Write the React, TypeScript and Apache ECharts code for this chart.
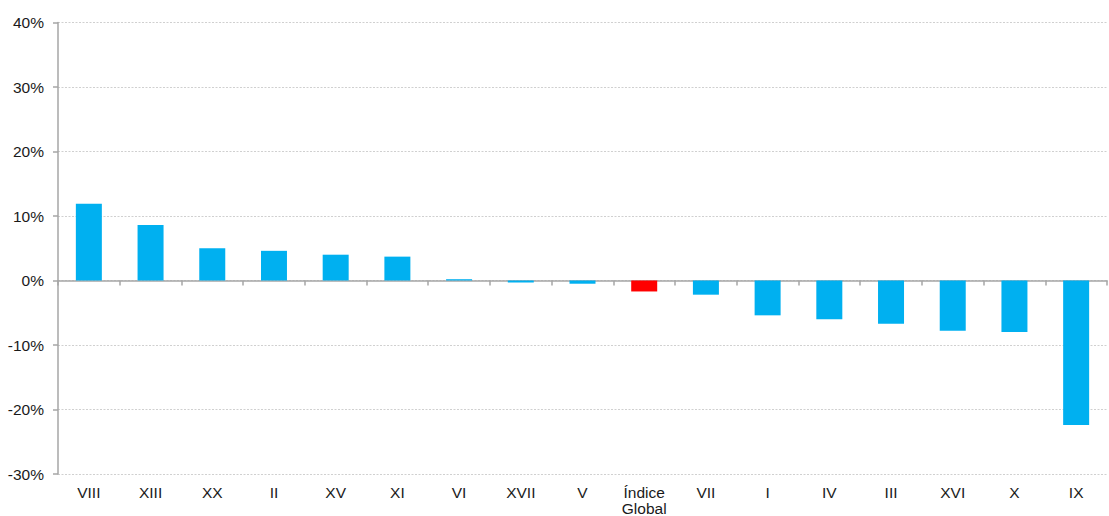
import React, { useEffect, useRef } from "react";
import * as echarts from "echarts";

const categories = ["VIII", "XIII", "XX", "II", "XV", "XI", "VI", "XVII", "V", "Índice\nGlobal", "VII", "I", "IV", "III", "XVI", "X", "IX"];
const values = [11.9, 8.6, 5.0, 4.6, 4.0, 3.7, 0.2, -0.3, -0.5, -1.7, -2.2, -5.4, -6.0, -6.7, -7.8, -8.0, -22.4];
const highlightCategory = "Índice\nGlobal";
const yTicks = { min: -30, max: 40, interval: 10 };

const BLUE = "#00B0F0";
const RED = "#FF0000";
const FONT = "'Liberation Sans', Arial, sans-serif";

export default function App() {
  const ref = useRef<HTMLDivElement>(null);
  useEffect(() => {
    if (!ref.current) return;
    const chart = echarts.init(ref.current, undefined, { renderer: "svg" });
    chart.setOption({
      animation: false,
      backgroundColor: "#ffffff",
      grid: { left: 58, right: 2, top: 22.5, bottom: 41.5, containLabel: false },
      xAxis: [
        {
          type: "category",
          data: categories,
          axisLine: { onZero: true, lineStyle: { color: "#A6A6A6", width: 1.5 } },
          axisTick: { show: true, length: 5, lineStyle: { color: "#A6A6A6", width: 1.5 } },
          axisLabel: { show: false },
          splitLine: { show: false },
        },
        {
          type: "category",
          data: categories,
          position: "bottom",
          axisLine: { show: false, onZero: false },
          axisTick: { show: false },
          axisLabel: {
            interval: 0,
            margin: 10,
            color: "#1a1a1a",
            fontSize: 15.5,
            fontFamily: FONT,
            lineHeight: 16,
          },
          splitLine: { show: false },
        },
      ],
      yAxis: {
        type: "value",
        min: yTicks.min,
        max: yTicks.max,
        interval: yTicks.interval,
        axisLine: { show: true, lineStyle: { color: "#A6A6A6", width: 1.5 } },
        axisTick: { show: true, length: 5, lineStyle: { color: "#A6A6A6", width: 1.5 } },
        axisLabel: {
          formatter: (v: number) => `${v}%`,
          margin: 14,
          color: "#1a1a1a",
          fontSize: 15.5,
          fontFamily: FONT,
        },
        splitLine: { show: true, lineStyle: { color: "#C4C4C4", type: [2, 1.5], width: 0.8 } },
      },
      series: [
        {
          type: "bar",
          xAxisIndex: 0,
          barWidth: 26,
          data: values.map((v, i) => ({
            value: v,
            itemStyle: { color: categories[i] === highlightCategory ? RED : BLUE },
          })),
          z: 1,
        },
      ],
    });
    return () => chart.dispose();
  }, []);
  return (
    <div
      ref={ref}
      style={{ position: "absolute", left: 0, top: 0, width: 1109, height: 516 }}
    />
  );
}
